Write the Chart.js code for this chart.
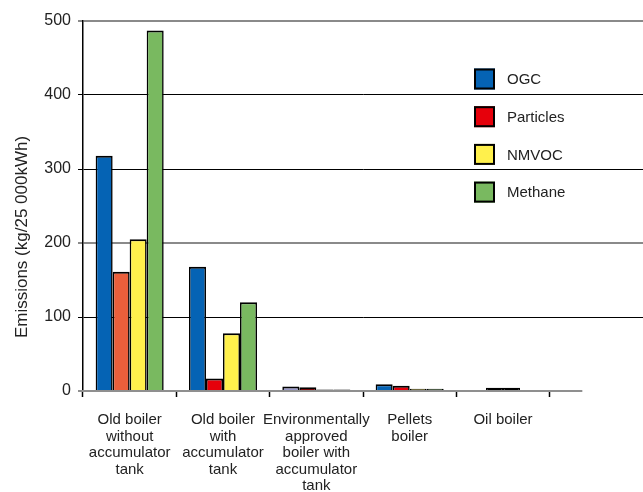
<!DOCTYPE html>
<html>
<head>
<meta charset="utf-8">
<script src="https://cdn.jsdelivr.net/npm/chart.js@4.4.0/dist/chart.umd.min.js"></script>
<style>
  html, body { margin: 0; padding: 0; background: #ffffff; }
  #wrap { width: 643px; height: 492px; position: relative; }
  canvas { display: block; }
</style>
</head>
<body>
<div id="wrap"><canvas id="chart" width="643" height="492"></canvas></div>
<script>
// Emissions per heating system, kg per 25 000 kWh
const categories = [
  ['Old boiler', 'without', 'accumulator', 'tank'],
  ['Old boiler', 'with', 'accumulator', 'tank'],
  ['Environmentally', 'approved', 'boiler with', 'accumulator', 'tank'],
  ['Pellets', 'boiler'],
  ['Oil boiler'],
  ''
];
const seriesNames = ['OGC', 'Particles', 'NMVOC', 'Methane'];
const ogc       = [318, 168, 6, 9, null, null];
const particles = [161, 17, 5, 7, 4.5, null];
const nmvoc     = [205, 78, 2, 3, 4.5, null];
const methane   = [487, 120, 2, 3, null, null];
const yTicks    = [0, 100, 200, 300, 400, 500];
const yTitle    = 'Emissions (kg/25 000kWh)';

// fill colours, per bar
const ogcFill       = ['#0563b4', '#0563b4', '#9a9acb', '#0563b4', '#000000', '#0563b4'];
const particlesFill = ['#ea5f3b', '#e6000b', '#7a0a0a', '#e6000b', '#000000', '#e6000b'];
const nmvocFill     = ['#fff04c', '#fff04c', '#fff04c', '#fff04c', '#000000', '#fff04c'];
const methaneFill   = ['#79b960', '#79b960', '#79b960', '#79b960', '#000000', '#79b960'];
const swatches      = ['#0563b4', '#e6000b', '#fff04c', '#79b960'];

const FONT = '"Liberation Sans", Arial, sans-serif';
const TEXT = '#222222';

// legend drawn inside the plot, stacked vertically
const legendPlugin = {
  id: 'stackedLegend',
  afterDatasetsDraw(chart) {
    const ctx = chart.ctx;
    const box = 21, x0 = 474, firstY = 79, gap = 37.7;
    ctx.save();
    ctx.font = '15px ' + FONT;
    ctx.textBaseline = 'middle';
    ctx.textAlign = 'left';
    chart.data.datasets.forEach((ds, i) => {
      const cy = firstY + i * gap;
      ctx.fillStyle = swatches[i];
      ctx.fillRect(x0, cy - box / 2, box, box);
      ctx.lineWidth = 2;
      ctx.strokeStyle = '#000';
      ctx.strokeRect(x0 + 1, cy - box / 2 + 1, box - 2, box - 2);
      ctx.fillStyle = TEXT;
      ctx.fillText(ds.label, x0 + box + 12, cy + 1);
    });
    ctx.restore();
  }
};

// x axis baseline and rotated y title
const axisPlugin = {
  id: 'axisDecor',
  afterDatasetsDraw(chart) {
    const ctx = chart.ctx;
    const x = chart.scales.x, y = chart.scales.y;
    const zeroY = Math.round(y.getPixelForValue(0));
    const catW = (x.right - x.left) / categories.length;
    const endX = x.left + catW * 5.35;
    ctx.save();
    ctx.strokeStyle = '#8f8f8f';
    ctx.lineWidth = 2;
    ctx.beginPath();
    ctx.moveTo(x.left - 5, zeroY);
    ctx.lineTo(endX, zeroY);
    ctx.stroke();

    ctx.translate(22, 237);
    ctx.rotate(-Math.PI / 2);
    ctx.font = '17px ' + FONT;
    ctx.fillStyle = TEXT;
    ctx.textAlign = 'center';
    ctx.textBaseline = 'middle';
    ctx.fillText(yTitle, 0, 0);
    ctx.restore();
  }
};

const seriesData = [ogc, particles, nmvoc, methane];
const seriesFill = [ogcFill, particlesFill, nmvocFill, methaneFill];

new Chart(document.getElementById('chart'), {
  type: 'bar',
  data: {
    labels: categories,
    datasets: seriesNames.map((name, i) => ({
      label: name,
      data: seriesData[i],
      backgroundColor: seriesFill[i],
      borderColor: '#000000',
      borderWidth: { top: 2, left: 1.6, right: 1.6, bottom: 0 },
      categoryPercentage: 0.729,
      barPercentage: 1.0
    }))
  },
  options: {
    responsive: false,
    animation: false,
    devicePixelRatio: 1,
    layout: { padding: { top: 21, left: 0, right: 0, bottom: 0 } },
    plugins: {
      legend: { display: false },
      tooltip: { enabled: false }
    },
    scales: {
      x: {
        type: 'category',
        offset: true,
        border: { display: false },
        grid: {
          offset: true,
          drawOnChartArea: false,
          drawTicks: true,
          tickLength: 6,
          tickWidth: 1.5,
          tickColor: c => (c.index === undefined || c.index >= 6) ? 'rgba(0,0,0,0)' : '#000000'
        },
        ticks: {
          autoSkip: false,
          maxRotation: 0,
          padding: 15,
          color: TEXT,
          font: { family: FONT, size: 15, lineHeight: 1.1 }
        },
        afterFit: s => { s.height = 101; }
      },
      y: {
        min: 0,
        max: 500,
        afterBuildTicks: s => { s.ticks = yTicks.map(v => ({ value: v })); },
        border: { display: true, color: '#000000', width: 1.5 },
        grid: {
          drawTicks: true,
          tickLength: 5,
          color: c => {
            const v = c.tick ? c.tick.value : null;
            if (v === 0) return 'rgba(0,0,0,0)';
            return (v === 500 || v === 200) ? '#8a8a8a' : '#000000';
          },
          lineWidth: c => {
            const v = c.tick ? c.tick.value : null;
            return (v === 500 || v === 200) ? 2 : 1;
          }
        },
        ticks: {
          padding: 7,
          color: TEXT,
          font: { family: FONT, size: 16 }
        },
        afterFit: s => { s.width = 83; }
      }
    }
  },
  plugins: [axisPlugin, legendPlugin]
});
</script>
</body>
</html>
